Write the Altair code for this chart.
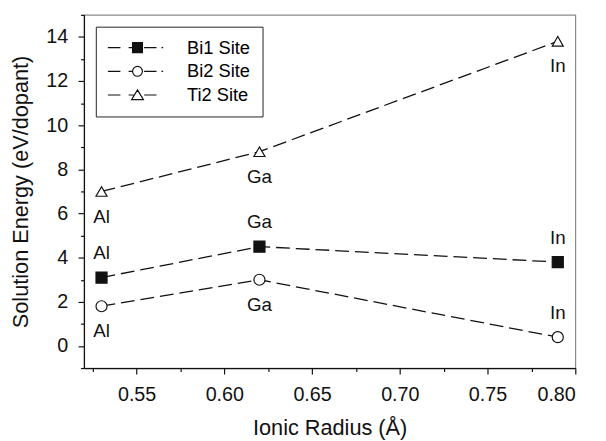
import altair as alt
import pandas as pd

# ---- data ----
radius = [0.53, 0.62, 0.79]
elements = ["Al", "Ga", "In"]
bi1 = [3.1, 4.5, 3.8]
bi2 = [1.8, 3.0, 0.4]
ti2 = [7.0, 8.8, 13.8]
series_names = ["Bi1 Site", "Bi2 Site", "Ti2 Site"]
label_side = {
    "Bi1 Site": ["above", "above", "above"],
    "Bi2 Site": ["below", "below", "above"],
    "Ti2 Site": ["below", "below", "below"],
}
x_ticks = [0.525, 0.55, 0.575, 0.60, 0.625, 0.65, 0.675, 0.70, 0.725, 0.75, 0.775, 0.80]
y_ticks = [-1, 0, 1, 2, 3, 4, 5, 6, 7, 8, 9, 10, 11, 12, 13, 14, 15]

values = {"Bi1 Site": bi1, "Bi2 Site": bi2, "Ti2 Site": ti2}
rows = []
for s in series_names:
    for r, e, v, side in zip(radius, elements, values[s], label_side[s]):
        rows.append({"series": s, "radius": r, "energy": v, "element": e, "side": side})
df = pd.DataFrame(rows)

FONT = "Liberation Sans"

# legend symbols: dashed line with the marker, as custom symbol paths
legend_paths = [
    "M-1.8,0H0.74M2.4,0H3.2M3.2,-1H5.2V1H3.2ZM5.54,0H8.06M9.06,0H9.4",
    "M-1.8,0H0.74M2.4,0H3.2M5.2,0A1,1 0 1,1 3.2,0A1,1 0 1,1 5.2,0ZM5.54,0H8.06M9.06,0H9.4",
    "M-1.8,0H0.74M2.4,0H3.4M4.2,-1.05L5.4,0.95L3,0.95ZM5.56,0H8.06",
]

x_axis = alt.Axis(title="Ionic Radius (Å)", values=x_ticks, format=".2f",
                  labelOverlap=False,
                  labelExpr="round(datum.value*200) % 2 == 0 ? datum.label : ''",
                  tickSize={"condition": {"test": "round(datum.value*200) % 2 != 0", "value": 3.5}, "value": 6},
                  labelPadding=10.5, titlePadding=13.5)
y_axis = alt.Axis(title="Solution Energy (eV/dopant)", values=y_ticks, format="d",
                  labelOverlap=False,
                  labelExpr="round(datum.value) % 2 == 0 ? datum.label : ''",
                  tickSize={"condition": {"test": "round(datum.value) % 2 != 0", "value": 3.5}, "value": 6},
                  labelPadding=10.5, titlePadding=13)

x_scale = alt.Scale(domain=[0.52, 0.80], nice=False, zero=False)
y_scale = alt.Scale(domain=[-1, 15], nice=False, zero=False)

base = alt.Chart(df)
X = alt.X("radius:Q", scale=x_scale, axis=x_axis)
Y = alt.Y("energy:Q", scale=y_scale, axis=y_axis)

lines = base.mark_line(color="#111111", strokeWidth=1.3, strokeDash=[14, 6]).encode(
    x=X, y=Y, detail="series:N", order="radius:Q")

marker_styles = {
    "Bi1 Site": dict(shape="square", fill="#111111"),
    "Bi2 Site": dict(shape="circle", fill="white"),
    "Ti2 Site": dict(shape="triangle-up", fill="white"),
}
point_layers = []
for s in series_names:
    st = marker_styles[s]
    point_layers.append(
        base.transform_filter(alt.datum.series == s).mark_point(
            shape=st["shape"], fill=st["fill"], filled=True, stroke="#111111",
            strokeWidth=1.2, size=125, opacity=1
        ).encode(x=X, y=Y)
    )


def make_legend():
    return alt.Legend(title=None, orient="top-left", offset=12, padding=12,
                      strokeColor="#222222", fillColor="white",
                      symbolSize=100, symbolOpacity=1, symbolStrokeWidth=1.2,
                      labelFont=FONT, labelFontSize=18.5, labelColor="black",
                      labelOffset=62, rowPadding=5)


legend_layer = base.mark_point(filled=True, strokeWidth=1.2, opacity=0, size=100).encode(
    x=X, y=Y,
    shape=alt.Shape("series:N", scale=alt.Scale(domain=series_names, range=legend_paths),
                    legend=make_legend()),
    fill=alt.Fill("series:N", scale=alt.Scale(domain=series_names, range=["#111111", "white", "white"]),
                  legend=make_legend()),
    stroke=alt.Stroke("series:N", scale=alt.Scale(domain=series_names, range=["#111111", "#111111", "#111111"]),
                      legend=make_legend()),
)

text_above = base.transform_filter(alt.datum.side == "above").mark_text(
    font=FONT, fontSize=19, color="#111111", align="center", baseline="middle", dy=-24.5
).encode(x=X, y=Y, text="element:N")
text_below = base.transform_filter(alt.datum.side == "below").mark_text(
    font=FONT, fontSize=19, color="#111111", align="center", baseline="middle", dy=25.5
).encode(x=X, y=Y, text="element:N")

chart = alt.layer(lines, *point_layers, text_above, text_below, legend_layer).properties(
    width=498, height=358,
    autosize=alt.AutoSizeParams(type="none"),
    padding={"left": 77, "top": 4, "right": 23, "bottom": 71},
).configure_view(
    stroke="#8a8a8a", strokeWidth=1.2
).configure_axis(
    grid=False, domainColor="#111111", domainWidth=1.2, tickColor="#111111", tickWidth=1.2,
    labelFont=FONT, labelFontSize=20, labelColor="#111111",
    titleFont=FONT, titleFontSize=22, titleFontWeight="normal", titleColor="#111111",
)

chart.save("out.html", embed_options={"renderer": "svg", "actions": False})
